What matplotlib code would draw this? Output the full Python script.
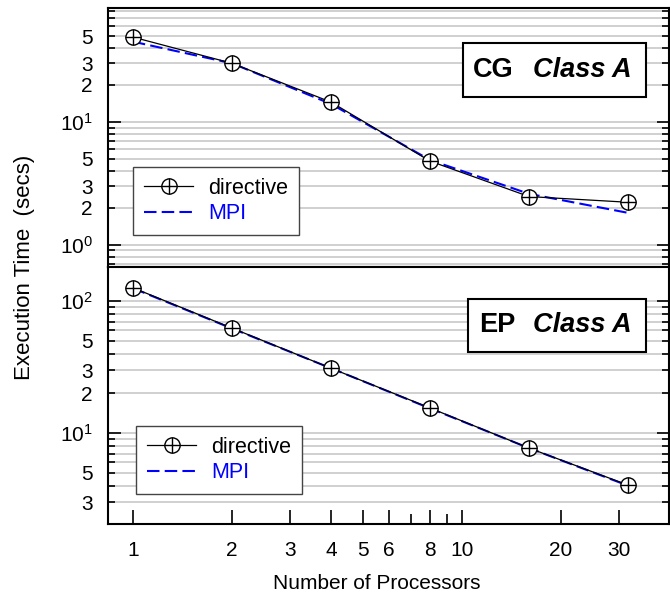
import numpy as np
import matplotlib
matplotlib.use("Agg")
import matplotlib.pyplot as plt
import matplotlib.ticker as mticker
from matplotlib.legend_handler import HandlerTuple
from matplotlib.patches import Rectangle

plt.rcParams['font.family'] = ['Liberation Sans', 'DejaVu Sans']

# data
procs = [1, 2, 4, 8, 16, 32]
cg_directive = [49, 30, 14.5, 4.8, 2.47, 2.22]
cg_mpi = [45, 30, 14, 4.9, 2.6, 1.82]
ep_directive = [126, 62.4, 31, 15.5, 7.7, 4.04]
ep_mpi = [125, 62, 31, 15.4, 7.7, 4.0]

x_ticks = [1, 2, 3, 4, 5, 6, 8, 10, 20, 30]
x_minor = [7, 9]


def log_label(v, pos):
    e = int(np.floor(np.log10(v) + 1e-9))
    m = int(round(v / 10 ** e))
    if m == 1:
        return r'$\mathregular{10^{%d}}$' % e
    if m in (2, 3, 5):
        return str(m)
    return ''


def setup_axis(ax, ylim):
    ax.set_xscale('log')
    ax.set_yscale('log')
    ax.set_xlim(0.84, 42.6)
    ax.set_ylim(*ylim)
    ax.yaxis.set_major_locator(mticker.LogLocator(base=10))
    ax.yaxis.set_minor_locator(mticker.LogLocator(base=10, subs=np.arange(2, 10)))
    ax.yaxis.set_major_formatter(mticker.FuncFormatter(log_label))
    ax.yaxis.set_minor_formatter(mticker.FuncFormatter(log_label))
    ax.tick_params(axis='y', which='both', direction='in', left=True, right=True,
                   labelsize=15, pad=11)
    ax.tick_params(axis='y', which='major', length=9, width=1.2)
    ax.tick_params(axis='y', which='minor', length=5, width=1.2)
    ax.grid(True, which='both', axis='y', color='#c8c8c8', lw=1.2)
    ax.set_axisbelow(True)
    for s in ax.spines.values():
        s.set_linewidth(1.5)


def draw(ax, d_vals, m_vals):
    hm, = ax.plot(procs, m_vals, color='#0000ff', lw=1.5, dashes=(6, 2.5), zorder=3)
    hd, = ax.plot(procs, d_vals, color='black', lw=0.9, marker='o', ms=11,
                  mfc='white', mec='black', mew=1, zorder=4)
    hp, = ax.plot(procs, d_vals, ls='none', marker='+', ms=11, color='black',
                  mew=1, zorder=5)
    return hd, hp, hm


def title_box(ax, name, x0, x1, y0, y1, xn, xc, yc):
    ax.add_patch(Rectangle((x0, y0), x1 - x0, y1 - y0, transform=ax.transAxes,
                           fc='white', ec='black', lw=1.5, zorder=6))
    ax.text(xn, yc, name, transform=ax.transAxes, fontsize=19.5,
            fontweight='bold', va='center', ha='left', zorder=7)
    ax.text(xc, yc, 'Class A', transform=ax.transAxes, fontsize=19.5,
            fontweight='bold', style='italic', va='center', ha='left', zorder=7)


fig = plt.figure(figsize=(6.7, 5.98), dpi=100)
ax_cg = fig.add_axes([0.1612, 0.5535, 0.8373, 0.4331])
ax_ep = fig.add_axes([0.1612, 0.1237, 0.8373, 0.4298])

setup_axis(ax_cg, (0.66, 84.5))
setup_axis(ax_ep, (2.05, 181))

for ax in (ax_cg, ax_ep):
    ax.xaxis.set_major_locator(mticker.FixedLocator(x_ticks))
    ax.xaxis.set_minor_locator(mticker.FixedLocator(x_minor))
    ax.xaxis.set_major_formatter(mticker.FixedFormatter([str(t) for t in x_ticks]))
    ax.xaxis.set_minor_formatter(mticker.NullFormatter())

ax_cg.tick_params(axis='x', which='both', bottom=False, top=False, labelbottom=False)
ax_ep.tick_params(axis='x', which='both', direction='in', top=False,
                  labelsize=15, pad=12, width=1.2)
ax_ep.tick_params(axis='x', which='major', length=10)
ax_ep.tick_params(axis='x', which='minor', length=7)

for ax, d_vals, m_vals, anchor in [(ax_cg, cg_directive, cg_mpi, (0.0446, 0.386)),
                                   (ax_ep, ep_directive, ep_mpi, (0.05, 0.381))]:
    hd, hp, hm = draw(ax, d_vals, m_vals)
    leg = ax.legend([(hd, hp), hm], ['directive', 'MPI'],
                    handler_map={tuple: HandlerTuple(ndivide=1)},
                    loc='upper left', bbox_to_anchor=anchor, borderaxespad=0,
                    fontsize=15.5, handlelength=2.3, labelcolor=['black', '#0000ff'],
                    fancybox=False, framealpha=1, edgecolor='#444444',
                    borderpad=0.5, labelspacing=0.2, handletextpad=0.7)
    leg.get_frame().set_linewidth(1.0)
    leg.set_zorder(8)

title_box(ax_cg, 'CG', 0.633, 0.959, 0.656, 0.865, 0.651, 0.758, 0.761)
title_box(ax_ep, 'EP', 0.642, 0.959, 0.669, 0.875, 0.661, 0.758, 0.774)

fig.text(0.037, 0.553, 'Execution Time  (secs)', rotation=90,
         va='center', ha='center', fontsize=16)
fig.text(0.5627, 0.025, 'Number of Processors', va='center', ha='center',
         fontsize=15)

fig.savefig('out.png', dpi=100)
